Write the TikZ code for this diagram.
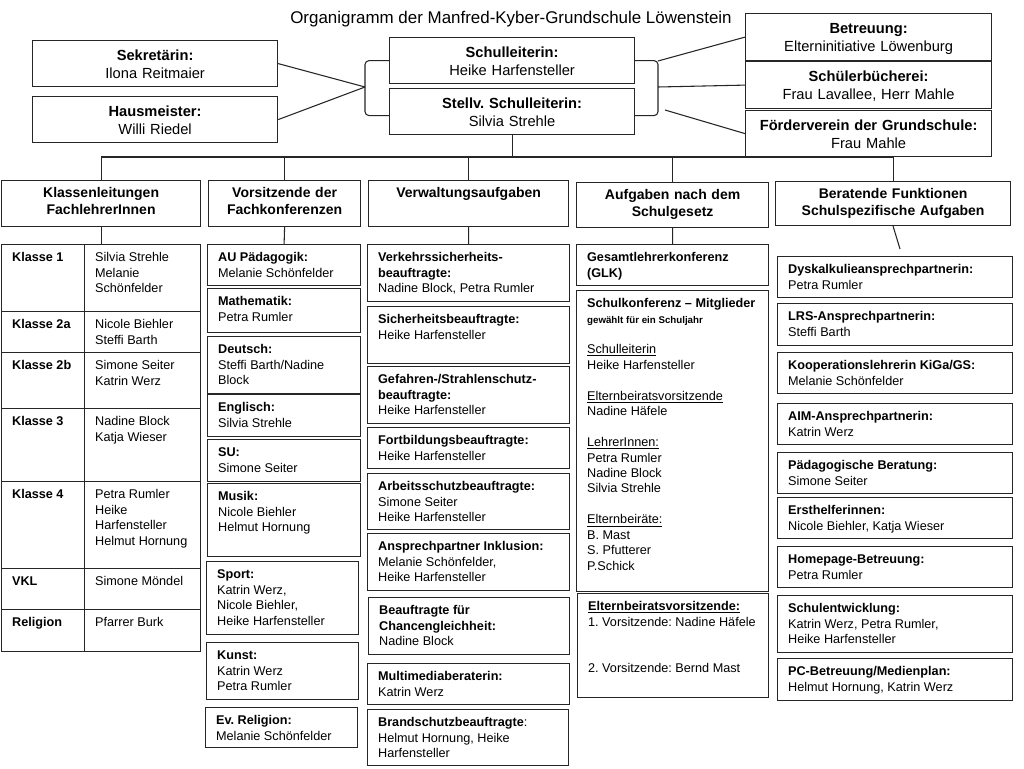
\documentclass[tikz,border=0pt]{standalone}
\usepackage{fontspec}
\setmainfont{Liberation Sans}
\hyphenpenalty=10000
\exhyphenpenalty=10000
\frenchspacing
\newcommand\bx[7][]{%
  \pgfmathsetmacro\bxw{(#5-#3)*0.75-15.8}%
  \pgfmathsetmacro\bxd{(#6-#4)*0.75-12.75}%
  \node[bxs,align=flush left,inner xsep=7.9pt,#1,text width=\bxw pt,text height=12.75pt,text depth=\bxd pt] (#2) at (#3,#4) {#7};}
\newcommand\cbx[8][]{%
  \pgfmathsetmacro\bxw{(#5-#3)*0.75}%
  \pgfmathsetmacro\bxd{(#6-#4)*0.75-#7}%
  \node[bxs,align=center,#1,text width=\bxw pt,text height=#7pt,text depth=\bxd pt] (#2) at (#3,#4) {#8};}
\begin{document}
\frenchspacing
\begin{tikzpicture}[x=0.75pt,y=-0.75pt,
  bxs/.style={draw=black!85, line width=0.9pt, anchor=north west, inner sep=0pt,
    font=\fontsize{9.5}{11.6}\selectfont},
  cat/.style={font=\fontsize{10.5}{12.75}\selectfont\bfseries},
  hdr/.style={font=\fontsize{11}{13.5}\selectfont},
  conn/.style={draw=black!85, line width=0.8pt}]
\fill[white] (0,0) rectangle (1024,768);
\useasboundingbox (0,0) rectangle (1024,768);

% title
\node[font=\fontsize{12.7}{15}\selectfont, anchor=base] (title) at (511,23)
  {Organigramm der Manfred-Kyber-Grundschule Löwenstein};

% top boxes
\cbx[hdr]{sek}{32}{40}{277}{86}{15}{\textbf{Sekretärin:}\\Ilona Reitmaier}
\cbx[hdr]{hau}{32}{96}{277}{142}{15}{\textbf{Hausmeister:}\\Willi Riedel}
\cbx[hdr]{sl}{389}{37}{634}{83}{15}{\textbf{Schulleiterin:}\\Heike Harfensteller}
\cbx[hdr]{stv}{389}{88}{634}{134}{15}{\textbf{Stellv. Schulleiterin:}\\Silvia Strehle}
\cbx[hdr]{betr}{745}{13}{991}{60}{15}{\textbf{Betreuung:}\\Elterninitiative Löwenburg}
\cbx[hdr]{schb}{745}{61}{991}{108}{15}{\textbf{Schülerbücherei:}\\Frau Lavallee, Herr Mahle}
\cbx[hdr]{foe}{745}{110}{991}{156}{15}{\textbf{Förderverein der Grundschule:}\\Frau Mahle}

% brackets and connectors at the top
\coordinate (bl) at (365,87);
\coordinate (br) at (658,87);
\coordinate (rt) at (658,61);
\coordinate (rb) at (665,110);
\draw[conn, rounded corners=3pt] (sl.west) -| (bl) |- ([yshift=-3pt]stv.west);
\draw[conn, rounded corners=3pt] (sl.east) -| (br) |- ([yshift=-3pt]stv.east);
\draw[conn] (sek.east) -- (bl);
\draw[conn] (hau.east) -- (bl);
\draw[conn] (rt) -- (betr.west);
\draw[conn] (br) -- (schb.west);
\draw[conn] (rb) -- (foe.west);

% category boxes
\cbx[cat]{kl}{1}{180}{200}{226}{12.75}{Klassenleitungen\\FachlehrerInnen}
\cbx[cat]{vf}{208}{180}{360}{226}{12.75}{Vorsitzende der\\Fachkonferenzen}
\cbx[cat]{vw}{368}{180}{568}{226}{12.75}{Verwaltungsaufgaben}
\cbx[cat]{ag}{576}{182}{768}{227}{12.75}{Aufgaben nach dem\\Schulgesetz}
\cbx[cat]{bf}{775}{181}{1010}{225}{12.75}{Beratende Funktionen\\Schulspezifische Aufgaben}

% bus
\coordinate (bus) at (512,157);
\draw[conn] (stv.south) -- (stv.south |- bus);
\draw[conn] (kl.north) -- (kl.north |- bus) -- (bf.north |- bus) -- (bf.north);
\draw[conn] (vf.north) -- (vf.north |- bus);
\draw[conn] (vw.north) -- (vw.north |- bus);
\draw[conn] (ag.north) -- (ag.north |- bus);

% column 1 table
\bx{k1a}{1}{244}{84}{311}{\textbf{Klasse 1}}
\bx{k1b}{84}{244}{200}{311}{Silvia Strehle\\Melanie\\Schönfelder}
\bx{k2a}{1}{311}{84}{352}{\textbf{Klasse 2a}}
\bx{k2b}{84}{311}{200}{352}{Nicole Biehler\\Steffi Barth}
\bx{k3a}{1}{352}{84}{408}{\textbf{Klasse 2b}}
\bx{k3b}{84}{352}{200}{408}{Simone Seiter\\Katrin Werz}
\bx{k4a}{1}{408}{84}{481}{\textbf{Klasse 3}}
\bx{k4b}{84}{408}{200}{481}{Nadine Block\\Katja Wieser}
\bx{k5a}{1}{481}{84}{568}{\textbf{Klasse 4}}
\bx{k5b}{84}{481}{200}{568}{Petra Rumler\\Heike\\Harfensteller\\Helmut Hornung}
\bx{k6a}{1}{568}{84}{609}{\textbf{VKL}}
\bx{k6b}{84}{568}{200}{609}{Simone Möndel}
\bx{k7a}{1}{609}{84}{651}{\textbf{Religion}}
\bx{k7b}{84}{609}{200}{651}{Pfarrer Burk}
\draw[conn] (kl.south) -- (kl.south |- k1b.north);

% column 2
\bx{au}{207}{244}{360}{285}{\textbf{AU Pädagogik:}\\Melanie Schönfelder}
\bx{ma}{207}{288}{360}{332}{\textbf{Mathematik:}\\Petra Rumler}
\bx{de}{207}{336}{360}{393}{\textbf{Deutsch:}\\Steffi Barth/Nadine\\Block}
\bx{en}{207}{394}{360}{436}{\textbf{Englisch:}\\Silvia Strehle}
\bx{su}{207}{439}{360}{481}{\textbf{SU:}\\Simone Seiter}
\bx{mu}{207}{483}{360}{556}{\textbf{Musik:}\\Nicole Biehler\\Helmut Hornung}
\bx{sp}{206}{561}{358}{634}{\textbf{Sport:}\\Katrin Werz,\\Nicole Biehler,\\Heike Harfensteller}
\bx{ku}{206}{642}{358}{699}{\textbf{Kunst:}\\Katrin Werz\\Petra Rumler}
\bx{ev}{205}{707}{357}{747}{\textbf{Ev. Religion:}\\Melanie Schönfelder}
\draw[conn] (vf.south) -- (au.north);

% column 3
\bx{vk}{367}{244}{569}{301}{\textbf{Verkehrssicherheits-}\\\textbf{beauftragte:}\\Nadine Block, Petra Rumler}
\bx{si}{367}{306}{569}{363}{\textbf{Sicherheitsbeauftragte:}\\Heike Harfensteller}
\bx{ge}{367}{366}{569}{423}{\textbf{Gefahren-/Strahlenschutz-}\\\textbf{beauftragte:}\\Heike Harfensteller}
\bx{fo}{367}{427}{569}{468}{\textbf{Fortbildungsbeauftragte:}\\Heike Harfensteller}
\bx{ar}{367}{473}{569}{529}{\textbf{Arbeitsschutzbeauftragte:}\\Simone Seiter\\Heike Harfensteller}
\bx{an}{367}{533}{569}{590}{\textbf{Ansprechpartner Inklusion:}\\Melanie Schönfelder,\\Heike Harfensteller}
\bx{ch}{368}{597}{569}{654}{\textbf{Beauftragte für}\\\textbf{Chancengleichheit:}\\Nadine Block}
\bx{mm}{367}{663}{569}{704}{\textbf{Multimediaberaterin:}\\Katrin Werz}
\bx{bs}{367}{709}{568}{765}{\textbf{Brandschutzbeauftragte}:\\Helmut Hornung, Heike\\Harfensteller}
\draw[conn] (vw.south) -- (vk.north);

% column 4
\bx{glk}{576}{244}{768}{285}{\textbf{Gesamtlehrerkonferenz}\\\textbf{(GLK)}}
\bx{sk}{576}{290}{768}{591}{\textbf{Schulkonferenz – Mitglieder}\\
  {\fontsize{7.3}{9}\selectfont\bfseries gewählt für ein Schuljahr}\\[11.4pt]
  \underline{Schulleiterin}\\Heike Harfensteller\\[11.6pt]
  \underline{Elternbeiratsvorsitzende}\\Nadine Häfele\\[11.6pt]
  \underline{LehrerInnen:}\\Petra Rumler\\Nadine Block\\Silvia Strehle\\[11.6pt]
  \underline{Elternbeiräte:}\\B. Mast\\S. Pfutterer\\P.Schick}
\bx{eb}{577}{593}{768}{697}{\textbf{\underline{Elternbeiratsvorsitzende:}}\\1. Vorsitzende: Nadine Häfele\\[23.2pt]2. Vorsitzende: Bernd Mast}
\draw[conn] (ag.south) -- (glk.north);

% column 5
\bx{dy}{777}{256}{1012}{297}{\textbf{Dyskalkulieansprechpartnerin:}\\Petra Rumler}
\bx{lrs}{777}{303}{1012}{345}{\textbf{LRS-Ansprechpartnerin:}\\Steffi Barth}
\bx{ko}{777}{352}{1012}{393}{\textbf{Kooperationslehrerin KiGa/GS:}\\Melanie Schönfelder}
\bx{aim}{777}{403}{1012}{444}{\textbf{AIM-Ansprechpartnerin:}\\Katrin Werz}
\bx{pb}{777}{452}{1012}{493}{\textbf{Pädagogische Beratung:}\\Simone Seiter}
\bx{eh}{777}{497}{1012}{538}{\textbf{Ersthelferinnen:}\\Nicole Biehler, Katja Wieser}
\bx{hp}{777}{546}{1012}{587}{\textbf{Homepage-Betreuung:}\\Petra Rumler}
\bx{se}{777}{595}{1012}{652}{\textbf{Schulentwicklung:}\\Katrin Werz, Petra Rumler,\\Heike Harfensteller}
\bx{pc}{777}{658}{1012}{700}{\textbf{PC-Betreuung/Medienplan:}\\Helmut Hornung, Katrin Werz}
\coordinate (bfend) at (900,249);
\draw[conn] (bf.south) -- (bfend);
\end{tikzpicture}
\end{document}
